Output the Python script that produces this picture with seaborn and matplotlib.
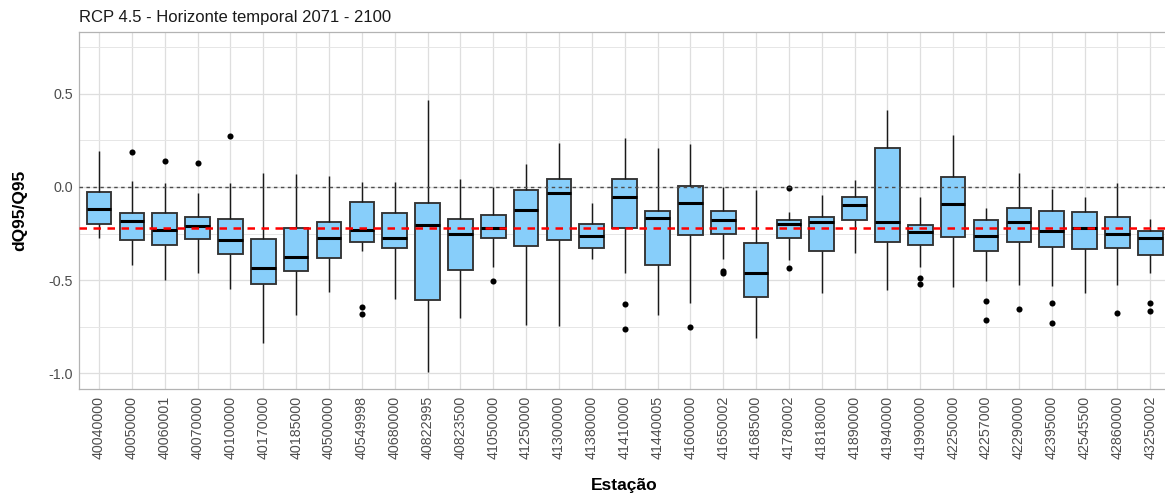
import matplotlib
matplotlib.use("Agg")
import matplotlib.pyplot as plt
from matplotlib.ticker import FixedLocator, FormatStrFormatter
import seaborn as sns
import pandas as pd

# Station codes (x axis)
stations = [
    "40040000", "40050000", "40060001", "40070000", "40100000", "40170000",
    "40185000", "40500000", "40549998", "40680000", "40822995", "40823500",
    "41050000", "41250000", "41300000", "41380000", "41410000", "41440005",
    "41600000", "41650002", "41685000", "41780002", "41818000", "41890000",
    "41940000", "41990000", "42250000", "42257000", "42290000", "42395000",
    "42545500", "42860000", "43250002",
]

# Five-number summaries of dQ95/Q95 per station
whisker_low = [-0.272, -0.418, -0.499, -0.460, -0.549, -0.835, -0.685, -0.562,
               -0.342, -0.603, -0.991, -0.705, -0.427, -0.739, -0.746, -0.386,
               -0.463, -0.685, -0.620, -0.384, -0.812, -0.390, -0.570, -0.356,
               -0.554, -0.427, -0.535, -0.504, -0.524, -0.529, -0.570, -0.524,
               -0.463]
q1 = [-0.197, -0.286, -0.313, -0.281, -0.361, -0.522, -0.449, -0.383,
      -0.293, -0.329, -0.604, -0.443, -0.275, -0.318, -0.286, -0.329,
      -0.222, -0.420, -0.259, -0.250, -0.592, -0.275, -0.342, -0.179,
      -0.293, -0.313, -0.270, -0.342, -0.293, -0.324, -0.334, -0.329,
      -0.367]
median = [-0.116, -0.181, -0.229, -0.207, -0.284, -0.433, -0.374, -0.272,
          -0.229, -0.272, -0.206, -0.254, -0.218, -0.122, -0.032, -0.265,
          -0.055, -0.165, -0.084, -0.177, -0.460, -0.200, -0.188, -0.098,
          -0.188, -0.243, -0.091, -0.261, -0.188, -0.236, -0.218, -0.254,
          -0.272]
q3 = [-0.025, -0.141, -0.141, -0.163, -0.173, -0.277, -0.222, -0.190,
      -0.079, -0.138, -0.088, -0.173, -0.148, -0.018, 0.041, -0.197,
      0.041, -0.127, 0.007, -0.127, -0.300, -0.175, -0.161, -0.054,
      0.211, -0.204, 0.055, -0.179, -0.114, -0.131, -0.136, -0.161,
      -0.238]
whisker_high = [0.193, 0.032, 0.021, -0.032, 0.021, 0.075, 0.070, 0.057,
                0.025, 0.025, 0.467, 0.043, 0.000, 0.123, 0.236, -0.086,
                0.261, 0.207, 0.231, 0.000, -0.014, -0.136, -0.045, 0.038,
                0.411, -0.052, 0.279, -0.113, 0.075, -0.009, -0.052, 0.021,
                -0.172]

# Outlying values per station
outliers = [
    [], [0.190], [0.141], [0.129], [0.274], [], [], [],
    [-0.644, -0.680], [], [], [], [-0.506], [], [], [],
    [-0.626, -0.764], [], [-0.753], [-0.451, -0.463], [], [-0.007, -0.433], [], [],
    [], [-0.486, -0.519], [], [-0.613, -0.715], [-0.656], [-0.621, -0.728], [], [-0.674],
    [-0.621, -0.663],
]

reference_level = -0.218

# Long-format tables for seaborn
box_rows = []
for i, st in enumerate(stations):
    for v in (whisker_low[i], q1[i], median[i], q3[i], whisker_high[i]):
        box_rows.append({"station": st, "value": v})
box_df = pd.DataFrame(box_rows)
out_df = pd.DataFrame([{"station": st, "value": v}
                       for st, vals in zip(stations, outliers) for v in vals])

sns.set_theme(style="whitegrid")
plt.rcParams["font.family"] = ["Liberation Sans", "DejaVu Sans"]
plt.rcParams["axes.unicode_minus"] = False

fig = plt.figure(figsize=(11.65, 5.01), dpi=100)
W, H = 1165, 501
left, right, top, bottom = 79.3, 1170.0, 31.7, 389.0
ax = fig.add_axes([left / W, 1 - bottom / H, (right - left) / W, (bottom - top) / H])

edge = "#333333"
sns.boxplot(
    data=box_df, x="station", y="value", order=stations, ax=ax,
    color="#87CEFA", saturation=1, width=0.75, whis=(0, 100),
    showfliers=False, showcaps=False, linecolor=edge, linewidth=1.35,
    medianprops={"color": "black", "linewidth": 2.2},
    whiskerprops={"color": "#1A1A1A", "linewidth": 1.05},
    zorder=3,
)
sns.stripplot(
    data=out_df, x="station", y="value", order=stations, ax=ax,
    jitter=False, color="black", size=4.4, linewidth=0, zorder=4,
)

ax.axhline(0.0, color="#4D4D4D", linewidth=1.0, linestyle=(0, (2.5, 2.5)), zorder=5)
ax.axhline(reference_level, color="#FF0000", linewidth=1.8, linestyle=(0, (3, 2.6)), zorder=5)

ax.set_xlim(-0.6, len(stations) - 1 + 0.6)
ax.set_ylim(-1.084, 0.833)

ax.yaxis.set_major_locator(FixedLocator([-1.0, -0.5, 0.0, 0.5]))
ax.yaxis.set_major_formatter(FormatStrFormatter("%.1f"))
ax.yaxis.set_minor_locator(FixedLocator([-0.75, -0.25, 0.25, 0.75]))

ax.grid(True, which="major", axis="both", color="#DEDEDE", linewidth=0.9, zorder=0)
ax.grid(True, which="minor", axis="y", color="#E6E6E6", linewidth=0.7, zorder=0)
ax.set_axisbelow(True)

for sp in ax.spines.values():
    sp.set_visible(True)
    sp.set_color("#B3B3B3")
    sp.set_linewidth(0.9)

ax.tick_params(axis="both", which="major", length=2.8, width=0.8, color="#B3B3B3",
               labelcolor="#4D4D4D", labelsize=10.3, pad=2)
ax.tick_params(axis="y", which="minor", length=0)
ax.tick_params(axis="x", labelrotation=90)

ax.set_xlabel("Estação", fontsize=12.5, fontweight="bold", color="black", labelpad=14)
ax.set_ylabel("dQ95/Q95", fontsize=12.5, fontweight="bold", color="black", labelpad=15)

fig.text(left / W, 1 - 21.7 / H, "RCP 4.5 - Horizonte temporal 2071 - 2100",
         fontsize=12, color="#1A1A1A", ha="left", va="baseline")

fig.savefig("out.png", dpi=100)
